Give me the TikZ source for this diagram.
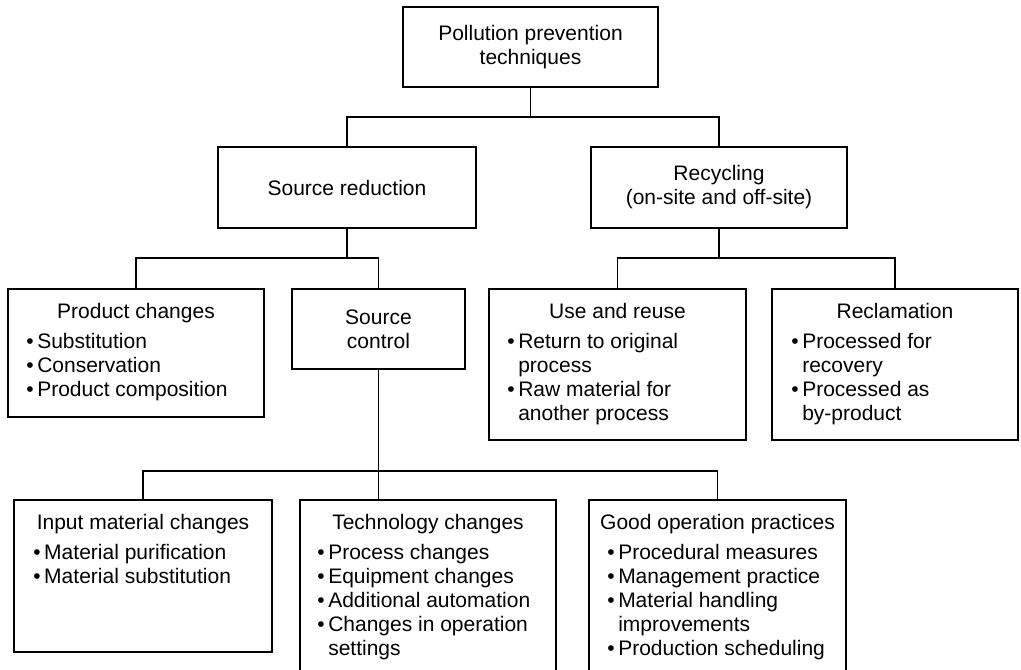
\documentclass[tikz,border=0pt]{standalone}
\usepackage{fontspec}
\setmainfont{Liberation Sans}
\usetikzlibrary{calc}
\newlength{\pxu}\setlength{\pxu}{0.75pt}
\newcommand{\bul}[1]{\hbox{\hbox to 11\pxu{\textbullet\hss}#1}}
\newcommand{\cnt}[1]{\hbox{\hskip 11\pxu #1}}
\newcommand{\blist}[1]{\vtop{\baselineskip=18pt\lineskiplimit=-20pt\lineskip=0pt #1}}
\newcommand{\mkbox}[5]{\node[boxst, minimum width={(#4-#2)*0.75pt}, minimum height={(#5-#3)*0.75pt}] (#1) at (#2,#3) {};}
\tikzset{
  boxst/.style={draw, line width=1.8pt, inner sep=0pt, outer sep=0pt, anchor=north west},
  hdr/.style={anchor=base, inner sep=0pt},
  lst/.style={anchor=base west, inner sep=0pt},
  ctr/.style={align=center, inner sep=0pt},
  conn/.style={line width=1.4pt}
}
\begin{document}
\begin{tikzpicture}[x=0.75pt, y=-0.75pt, font=\fontsize{15.75pt}{18pt}\selectfont]
\useasboundingbox (0,0) rectangle (1021,669);
\clip (0,0) rectangle (1021,669);

% boxes
\mkbox{top}{403}{7}{658}{87}
\mkbox{sr}{218}{147}{476}{228}
\mkbox{rec}{591}{147}{847}{228}
\mkbox{pc}{8}{289}{264}{417}
\mkbox{sc}{292}{289}{465}{369}
\mkbox{ur}{489}{289}{746}{440}
\mkbox{rc}{772}{289}{1018}{440}
\mkbox{ic}{14}{500}{272}{652}
\mkbox{tc}{300}{500}{556}{676}
\mkbox{go}{589}{500}{846}{676}

% centred texts
\node[ctr] (topt) at (top.center) {Pollution prevention\\techniques};
\node[ctr] (srt) at (sr.center) {Source reduction};
\node[ctr] (rect) at (rec.center) {Recycling\\(on-site and off-site)};
\node[ctr] (sct) at (sc.center) {Source\\control};

% headers
\node[hdr] (pch) at ($(pc.north)+(0,29)$) {Product changes};
\node[hdr] (urh) at ($(ur.north)+(0,29)$) {Use and reuse};
\node[hdr] (rch) at ($(rc.north)+(0,29)$) {Reclamation};
\node[hdr] (ich) at ($(ic.north)+(0,29)$) {Input material changes};
\node[hdr] (tch) at ($(tc.north)+(0,29)$) {Technology changes};
\node[hdr] (goh) at ($(go.north)+(0,29)$) {Good operation practices};

% bullet lists
\node[lst] (pcl) at ($(pc.north west)+(18,59)$) {\blist{\bul{Substitution}\bul{Conservation}\bul{Product composition}}};
\node[lst] (url) at ($(ur.north west)+(18,59)$) {\blist{\bul{Return to original}\cnt{process}\bul{Raw material for}\cnt{another process}}};
\node[lst] (rcl) at ($(rc.north west)+(19,59)$) {\blist{\bul{Processed for}\cnt{recovery}\bul{Processed as}\cnt{by-product}}};
\node[lst] (icl) at ($(ic.north west)+(19,59)$) {\blist{\bul{Material purification}\bul{Material substitution}}};
\node[lst] (tcl) at ($(tc.north west)+(17,59)$) {\blist{\bul{Process changes}\bul{Equipment changes}\bul{Additional automation}\bul{Changes in operation}\cnt{settings}}};
\node[lst] (gol) at ($(go.north west)+(18,59)$) {\blist{\bul{Procedural measures}\bul{Management practice}\bul{Material handling}\cnt{improvements}\bul{Production scheduling}}};

% connectors
\draw[conn] (top.south) -- ++(0,30) coordinate (j1) -| (sr.north);
\draw[conn] (j1) -| (rec.north);
\draw[conn] (sr.south) -- ++(0,30) coordinate (j2) -| (pc.north);
\draw[conn] (j2) -| (sc.north);
\draw[conn] (rec.south) -- ++(0,30) coordinate (j3) -| (ur.north);
\draw[conn] (j3) -| (rc.north);
\draw[conn] (sc.south) -- (sc.south |- tc.north);
\draw[conn] (ic.north) -- ++(0,-29) coordinate (j4) -| (go.north);
\end{tikzpicture}
\end{document}
